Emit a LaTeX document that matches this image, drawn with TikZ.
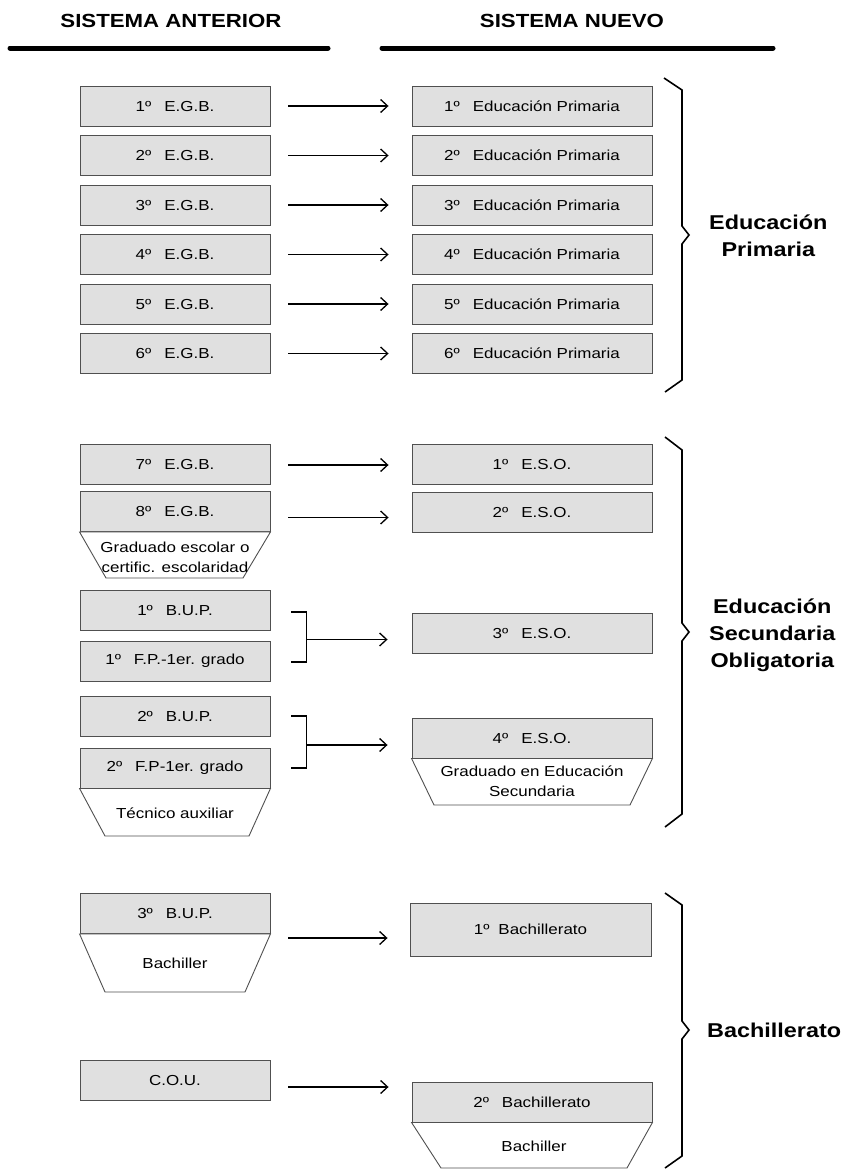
\documentclass[tikz,border=0pt]{standalone}
\usepackage{fontspec}
\setmainfont{Liberation Sans}[FakeStretch=1.17]
\usetikzlibrary{arrows.meta,calc}
\definecolor{boxfill}{HTML}{E0E0E0}
\definecolor{boxline}{HTML}{505050}
\tikzset{
 oldbox/.style={draw=boxline, fill=boxfill, line width=0.9pt, minimum width=190pt, minimum height=40pt, inner sep=0pt, font=\fontsize{14.5}{17}\selectfont},
 newbox/.style={oldbox, minimum width=240pt},
 trap/.style={draw=boxline, fill=white, line width=0.9pt},
 traptext/.style={font=\fontsize{14.5}{20}\selectfont, align=center, inner sep=0pt},
 arr/.style={line width=1.3pt, -{Straight Barb[length=7pt,width=13pt,line width=1.3pt]}},
 brk/.style={line width=1.3pt},
 bracepath/.style={line width=1.6pt, line join=miter},
 grouplabel/.style={font=\bfseries\fontsize{20}{27}\selectfont, align=center, anchor=west, inner sep=0pt},
 header/.style={font=\bfseries\fontsize{19}{23}\selectfont, inner sep=0pt},
 rulebar/.style={line width=5pt, line cap=round}
}
\newcommand{\gp}{\hspace{13pt}}
\begin{document}
\begin{tikzpicture}[x=1pt,y=-1pt]
\useasboundingbox (0,0) rectangle (853,1173);
% headers
\node[header] (H1) at (171,21) {SISTEMA ANTERIOR};
\node[header] (H2) at (572,21) {SISTEMA NUEVO};
\draw[rulebar] (10,48) -- (328,48);
\draw[rulebar] (382,48) -- (773,48);
% section 1
\foreach \i/\y in {1/106,2/155.5,3/205,4/254.5,5/304,6/353.5}{
  \node[oldbox] (L\i) at (175,\y) {\i º\gp E.G.B.};
  \node[newbox] (R\i) at (532,\y) {\i º\gp Educación Primaria};
  \draw[arr] ($(L\i.east)+(18,0)$) -- ($(R\i.west |- L\i.east)+(-23,0)$);
}
% section 2
\node[oldbox] (L7) at (175,464) {7º\gp E.G.B.};
\node[newbox] (E1) at (532,464) {1º\gp E.S.O.};
\draw[arr] ($(L7.east)+(18,1)$) -- ($(E1.west |- L7.east)+(-23,1)$);
\node[oldbox] (L8) at (175,511.5) {8º\gp E.G.B.};
\node[newbox] (E2) at (532,512) {2º\gp E.S.O.};
\draw[arr] ($(L8.east)+(18,6)$) -- ($(E2.west |- L8.east)+(-23,6)$);
\draw[trap] (L8.south west) -- (106,578) -- (243,578) -- (L8.south east) -- cycle;
\node[traptext] (T1) at (175,557) {Graduado escolar o\\certific. escolaridad};
\node[oldbox] (L1B) at (175,610) {1º\gp B.U.P.};
\node[oldbox] (L1F) at (175,661) {1º\gp F.P.-1er. grado};
\node[newbox] (E3) at (532,633.5) {3º\gp E.S.O.};
\draw[brk] ($(L1B.east)+(21,2)$) -- ++(15,0) |- ($(L1F.east)+(21,1)$);
\coordinate (J1) at ($(L1B.east)!0.5!(L1F.east)+(36,4)$);
\draw[arr] (J1) -- ($(E3.west |- J1)+(-24,0)$);
\node[oldbox] (L2B) at (175,716) {2º\gp B.U.P.};
\node[oldbox] (L2F) at (175,768) {2º\gp F.P-1er. grado};
\draw[trap] (L2F.south west) -- (105,836) -- (249,836) -- (L2F.south east) -- cycle;
\node[traptext] (T2) at (175,813) {Técnico auxiliar};
\node[newbox] (E4) at (532,738) {4º\gp E.S.O.};
\draw[trap] (E4.south west) -- (434,805) -- (630,805) -- (E4.south east) -- cycle;
\node[traptext] (T3) at (532,781) {Graduado en Educación\\Secundaria};
\draw[brk] ($(L2B.east)+(21,0)$) -- ++(15,0) |- ($(L2F.east)+(21,0)$);
\coordinate (J2) at ($(L2B.east)!0.5!(L2F.east)+(36,3)$);
\draw[arr] (J2) -- ($(E4.west |- J2)+(-24,0)$);
% section 3
\node[oldbox] (L3B) at (175,913.5) {3º\gp B.U.P.};
\draw[trap] (L3B.south west) -- (105,992) -- (245,992) -- (L3B.south east) -- cycle;
\node[traptext] (T4) at (175,963) {Bachiller};
\node[newbox, minimum width=241pt, minimum height=53pt] (B1) at (530.5,929.5) {1º\hspace{9pt}Bachillerato};
\draw[arr] ($(L3B.east)+(18,24.5)$) -- ($(B1.west |- L3B.east)+(-22,24.5)$);
\node[oldbox] (COU) at (175,1080) {C.O.U.};
\node[newbox] (B2) at (532,1102) {2º\gp Bachillerato};
\draw[trap] (B2.south west) -- (441,1168) -- (627,1168) -- (B2.south east) -- cycle;
\node[traptext] (T5) at (534,1146) {Bachiller};
\draw[arr] ($(COU.east)+(18,7)$) -- ($(B2.west |- COU.east)+(-23,7)$);
% braces
\draw[bracepath] (664,78) -- (682,90) -- (682,226) -- (689,235) -- (682,244) -- (682,380) -- (665,392);
\draw[bracepath] (665,437) -- (682,450) -- (682,623) -- (689,632) -- (682,641) -- (682,814) -- (665,827);
\draw[bracepath] (665,893) -- (682,905) -- (682,1021) -- (689,1030) -- (682,1039) -- (682,1156) -- (665,1168);
% group labels
\node[grouplabel] (G1) at (709,236) {Educación\\Primaria};
\node[grouplabel] (G2) at (709,635) {Educación\\Secundaria\\Obligatoria};
\node[grouplabel] (G3) at (707,1030) {Bachillerato};
\end{tikzpicture}
\end{document}
